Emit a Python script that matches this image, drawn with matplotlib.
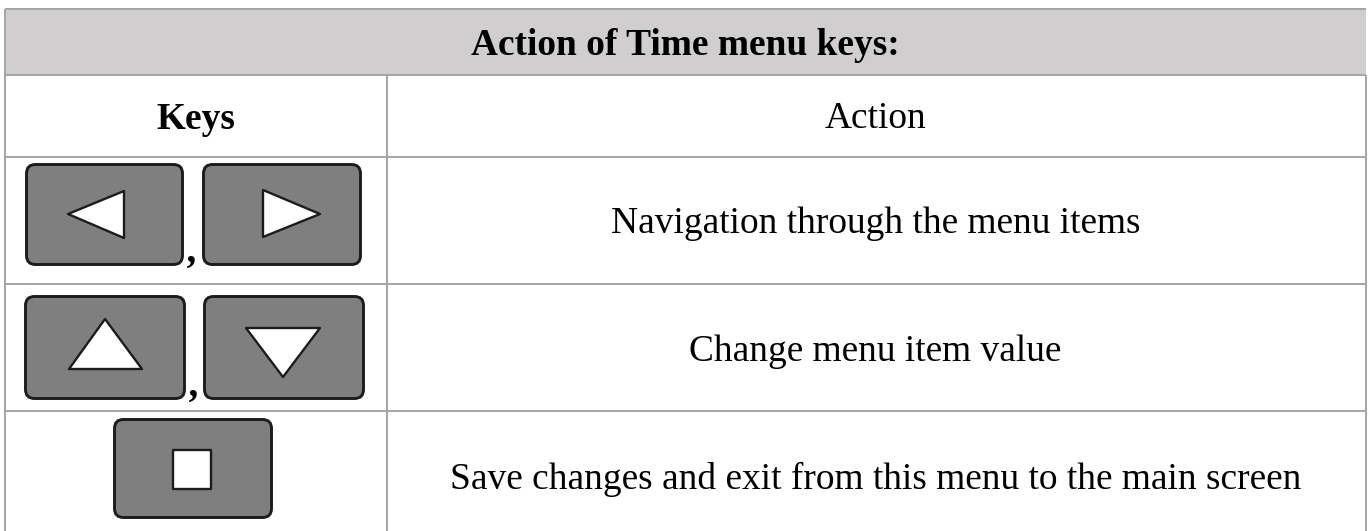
import matplotlib
matplotlib.use('Agg')
import matplotlib.pyplot as plt
from matplotlib.patches import FancyBboxPatch, Polygon, Rectangle

title = 'Action of Time menu keys:'
col_heads = ['Keys', 'Action']
actions = ['Navigation through the menu items',
           'Change menu item value',
           'Save changes and exit from this menu to the main screen']

# table grid in image pixels
left, mid, right = 5, 387, 1366
rows_y = [9, 75, 157, 284, 411, 531]

line_col = '#a6a6a6'
head_col = '#d0cece'
key_col = '#7f7f7f'
edge_col = '#1c1c1c'

# key caps: x0, y0, x1, y1 (outer edge)
keys = [(25, 163, 184, 266), (202, 163, 362, 266),
        (24, 295, 186, 400), (203, 295, 365, 400),
        (113, 418, 273, 519)]
# symbols on the keys
symbols = [[(68, 214), (124, 191), (124, 238)],
           [(263, 190), (263, 237), (320, 214)],
           [(105, 319), (69, 369), (142, 369)],
           [(246, 328), (320, 328), (283, 377)],
           [(173.5, 449.5), (211.5, 449.5), (211.5, 488.5), (173.5, 488.5)]]
commas = [(192.5, 252), (195, 386)]

fig = plt.figure(figsize=(13.7, 5.31), dpi=100)
ax = fig.add_axes([0, 0, 1, 1])
ax.set_xlim(0, 1370)
ax.set_ylim(531, 0)
ax.axis('off')

ax.add_patch(Rectangle((left, rows_y[0]), right - left, rows_y[1] - rows_y[0], fc=head_col, ec='none'))

# grid lines
for y in rows_y[:5]:
    ax.plot([left, right], [y, y], color=line_col, lw=1.45, solid_capstyle='butt')
ax.plot([left, left], [rows_y[0], 531], color=line_col, lw=1.45, solid_capstyle='butt')
ax.plot([right, right], [rows_y[1], 531], color=line_col, lw=1.45, solid_capstyle='butt')
ax.plot([mid, mid], [rows_y[1], 531], color=line_col, lw=1.45, solid_capstyle='butt')

serif = 'Liberation Serif'
fs = 26.9
ax.text(685, 55, title, family=serif, fontsize=fs, fontweight='bold', ha='center', va='baseline', color='black')
ax.text(196, 129, col_heads[0], family=serif, fontsize=fs, fontweight='bold', ha='center', va='baseline', color='black')
ax.text(876, 128, col_heads[1], family=serif, fontsize=fs, ha='center', va='baseline', color='black')

action_y = [233, 361, 489]
for a, y in zip(actions, action_y):
    ax.text(875.5, y, a, family=serif, fontsize=fs, ha='center', va='baseline', color='black')

for x0, y0, x1, y1 in keys:
    ax.add_patch(FancyBboxPatch((x0 + 11, y0 + 11), x1 - x0 - 22, y1 - y0 - 22,
                                boxstyle='round,pad=9.5,rounding_size=9',
                                fc=key_col, ec=edge_col, lw=2.1))
for pts in symbols:
    ax.add_patch(Polygon(pts, closed=True, fc='white', ec=edge_col, lw=1.7, joinstyle='round'))

for cx, cy in commas:
    ax.text(cx, cy, ',', family=serif, fontsize=29, fontweight='bold', style='italic',
            ha='center', va='center', color='black')

fig.savefig('out.png', dpi=100)
